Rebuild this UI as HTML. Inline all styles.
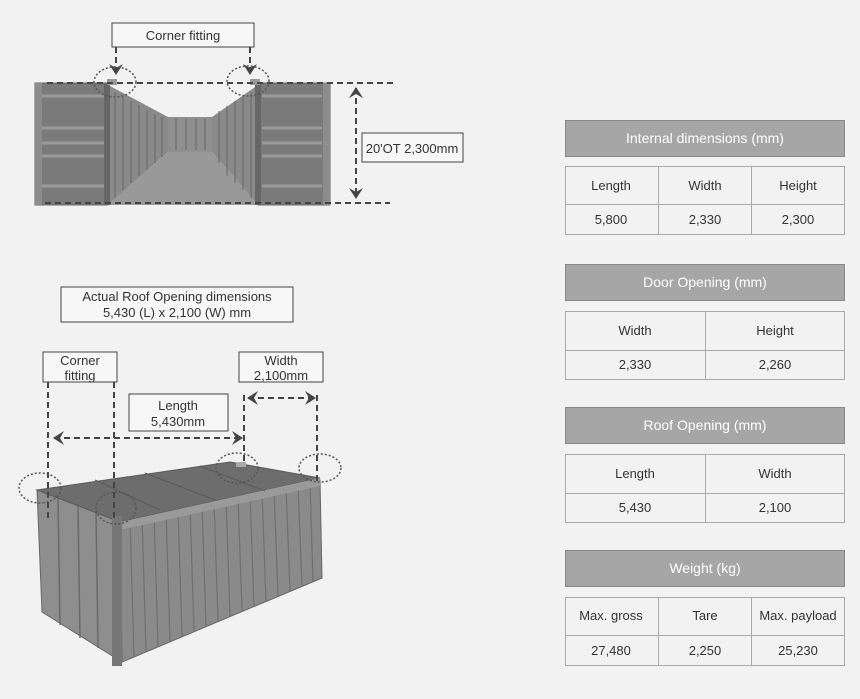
<!DOCTYPE html>
<html><head><style>
body{margin:0;background:#f2f2f2}
svg{display:block;font-family:"Liberation Sans",sans-serif}
</style></head><body>
<svg width="860" height="699" viewBox="0 0 860 699">
<rect width="860" height="699" fill="#f2f2f2"/>
<defs>
<marker id="ah" markerWidth="14" markerHeight="14" refX="10" refY="7" orient="auto-start-reverse" markerUnits="userSpaceOnUse"><path d="M0,0 L11,7 L0,14 L4,7 Z" fill="#444"/></marker>
</defs>
<g>
<rect x="35" y="83" width="73" height="122" fill="#7a7a7a" stroke="#666"/>
<rect x="258" y="83" width="72" height="122" fill="#7a7a7a" stroke="#666"/>
<g stroke="#9a9a9a" stroke-width="3">
<line x1="42" y1="96" x2="104" y2="96"/><line x1="42" y1="128" x2="104" y2="128"/><line x1="42" y1="143" x2="104" y2="143"/><line x1="42" y1="156" x2="104" y2="156"/><line x1="42" y1="186" x2="104" y2="186"/>
<line x1="262" y1="96" x2="322" y2="96"/><line x1="262" y1="128" x2="322" y2="128"/><line x1="262" y1="143" x2="322" y2="143"/><line x1="262" y1="156" x2="322" y2="156"/><line x1="262" y1="186" x2="322" y2="186"/>
</g>
<rect x="35" y="83" width="7" height="122" fill="#8c8c8c"/>
<rect x="323" y="83" width="7" height="122" fill="#8c8c8c"/>
<polygon points="108,85 168,117 168,152 108,205" fill="#8a8a8a"/>
<polygon points="258,85 212,117 212,152 258,205" fill="#8a8a8a"/>
<polygon points="168,117 212,117 212,152 168,152" fill="#8f8f8f"/>
<polygon points="108,205 168,152 212,152 258,205" fill="#999"/>
<g stroke="#666" stroke-width="1">
<line x1="115" y1="92" x2="115" y2="198"/><line x1="123" y1="97" x2="123" y2="190"/><line x1="131" y1="101" x2="131" y2="183"/><line x1="139" y1="105" x2="139" y2="176"/><line x1="147" y1="110" x2="147" y2="170"/><line x1="155" y1="114" x2="155" y2="163"/><line x1="162" y1="117" x2="162" y2="157"/>
<line x1="251" y1="92" x2="251" y2="198"/><line x1="243" y1="97" x2="243" y2="190"/><line x1="235" y1="101" x2="235" y2="183"/><line x1="227" y1="106" x2="227" y2="176"/><line x1="219" y1="111" x2="219" y2="163"/>
<line x1="176" y1="119" x2="176" y2="150"/><line x1="186" y1="119" x2="186" y2="150"/><line x1="196" y1="119" x2="196" y2="150"/><line x1="205" y1="119" x2="205" y2="150"/>
</g>
<rect x="104" y="83" width="6" height="122" fill="#666"/>
<rect x="255" y="83" width="6" height="122" fill="#666"/>
<rect x="107" y="79" width="10" height="6" fill="#999"/>
<rect x="250" y="79" width="10" height="6" fill="#999"/>
</g>
<g stroke="#444" stroke-width="2" stroke-dasharray="6,4" fill="none">
<line x1="47" y1="83" x2="393" y2="83"/>
<line x1="45" y1="203" x2="390" y2="203"/>
<line x1="356" y1="88" x2="356" y2="198" marker-end="url(#ah)" marker-start="url(#ah)"/>
<line x1="116" y1="47" x2="116" y2="74" marker-end="url(#ah)"/>
<line x1="250" y1="47" x2="250" y2="74" marker-end="url(#ah)"/>
</g>
<g stroke="#555" stroke-width="1.5" stroke-dasharray="2,2" fill="none">
<ellipse cx="115" cy="82" rx="21" ry="15"/>
<ellipse cx="248" cy="81" rx="21" ry="15"/>
</g>
<rect x="112" y="23" width="142" height="24" fill="#f7f7f7" stroke="#444"/>
<text x="183" y="40" font-size="13" fill="#333" text-anchor="middle">Corner fitting</text>
<rect x="362" y="133" width="101" height="29" fill="#f7f7f7" stroke="#444"/>
<text x="412" y="153" font-size="13" fill="#333" text-anchor="middle">20'OT 2,300mm</text>

<polygon points="118,520 320,480 322,578 122,662" fill="#8a8a8a" stroke="#666"/>
<g stroke="#6f6f6f" stroke-width="1.2">
<line x1="130" y1="518" x2="134" y2="656"/><line x1="142" y1="516" x2="146" y2="651"/><line x1="154" y1="513" x2="158" y2="646"/><line x1="166" y1="511" x2="170" y2="641"/><line x1="178" y1="508" x2="182" y2="636"/><line x1="190" y1="506" x2="194" y2="631"/><line x1="202" y1="503" x2="206" y2="626"/><line x1="214" y1="501" x2="218" y2="621"/><line x1="226" y1="498" x2="230" y2="616"/><line x1="238" y1="496" x2="242" y2="611"/><line x1="250" y1="494" x2="254" y2="606"/><line x1="262" y1="491" x2="266" y2="601"/><line x1="274" y1="489" x2="278" y2="596"/><line x1="286" y1="486" x2="290" y2="591"/><line x1="298" y1="484" x2="302" y2="586"/><line x1="310" y1="482" x2="313" y2="582"/>
</g>
<polygon points="37,490 120,520 122,662 42,612" fill="#8e8e8e" stroke="#666"/>
<g stroke="#6a6a6a" stroke-width="1.5">
<line x1="58" y1="498" x2="60" y2="625"/><line x1="78" y1="505" x2="80" y2="638"/><line x1="96" y1="511" x2="98" y2="648"/>
</g>
<polygon points="37,490 230,462 320,478 120,522" fill="#6d6d6d" stroke="#5a5a5a"/>
<polygon points="120,522 320,478 320,486 120,530" fill="#9a9a9a"/>
<g stroke="#5a5a5a"><line x1="95" y1="480" x2="160" y2="510"/><line x1="145" y1="473" x2="215" y2="500"/><line x1="200" y1="466" x2="265" y2="491"/></g>
<rect x="112" y="516" width="10" height="150" fill="#777"/>
<rect x="236" y="462" width="10" height="5" fill="#aaa"/>
<g stroke="#444" stroke-width="2" stroke-dasharray="6,4" fill="none">
<line x1="48" y1="382" x2="48" y2="520"/>
<line x1="114" y1="382" x2="114" y2="520"/>
<line x1="244" y1="395" x2="244" y2="462"/>
<line x1="317" y1="395" x2="317" y2="482"/>
<line x1="54" y1="438" x2="242" y2="438" marker-end="url(#ah)" marker-start="url(#ah)"/>
<line x1="248" y1="398" x2="315" y2="398" marker-end="url(#ah)" marker-start="url(#ah)"/>
</g>
<g stroke="#555" stroke-width="1.5" stroke-dasharray="2,2" fill="none">
<ellipse cx="40" cy="488" rx="21" ry="15"/>
<ellipse cx="116" cy="508" rx="20" ry="16"/>
<ellipse cx="237" cy="468" rx="21" ry="15"/>
<ellipse cx="320" cy="468" rx="21" ry="14"/>
</g>
<rect x="61" y="287" width="232" height="35" fill="#f7f7f7" stroke="#444"/>
<text x="177" y="301" font-size="13" fill="#333" text-anchor="middle">Actual Roof Opening dimensions</text>
<text x="177" y="317" font-size="13" fill="#333" text-anchor="middle">5,430 (L) x 2,100 (W) mm</text>
<rect x="43" y="352" width="74" height="30" fill="#f7f7f7" stroke="#444"/>
<text x="80" y="365" font-size="13" fill="#333" text-anchor="middle">Corner</text>
<text x="80" y="380" font-size="13" fill="#333" text-anchor="middle">fitting</text>
<rect x="239" y="352" width="84" height="30" fill="#f7f7f7" stroke="#444"/>
<text x="281" y="365" font-size="13" fill="#333" text-anchor="middle">Width</text>
<text x="281" y="380" font-size="13" fill="#333" text-anchor="middle">2,100mm</text>
<rect x="129" y="394" width="99" height="37" fill="#f7f7f7" stroke="#444"/>
<text x="178" y="410" font-size="13" fill="#333" text-anchor="middle">Length</text>
<text x="178" y="426" font-size="13" fill="#333" text-anchor="middle">5,430mm</text>

<g font-size="13" fill="#333" text-anchor="middle">
<g stroke="#888" fill="#a6a6a6">
<rect x="565.5" y="120.5" width="279" height="36"/>
<rect x="565.5" y="264.5" width="279" height="36"/>
<rect x="565.5" y="407.5" width="279" height="36"/>
<rect x="565.5" y="550.5" width="279" height="36"/>
</g>
<g fill="#fff" font-size="14">
<text x="705" y="143">Internal dimensions (mm)</text>
<text x="705" y="287">Door Opening (mm)</text>
<text x="705" y="430">Roof Opening (mm)</text>
<text x="705" y="573">Weight (kg)</text>
</g>
<g stroke="#aaa" fill="none">
<rect x="565.5" y="166.5" width="279" height="68"/><line x1="565" y1="204.5" x2="845" y2="204.5"/><line x1="658.5" y1="166" x2="658.5" y2="235"/><line x1="751.5" y1="166" x2="751.5" y2="235"/>
<rect x="565.5" y="311.5" width="279" height="68"/><line x1="565" y1="350.5" x2="845" y2="350.5"/><line x1="705.5" y1="311" x2="705.5" y2="380"/>
<rect x="565.5" y="454.5" width="279" height="68"/><line x1="565" y1="493.5" x2="845" y2="493.5"/><line x1="705.5" y1="454" x2="705.5" y2="523"/>
<rect x="565.5" y="597.5" width="279" height="68"/><line x1="565" y1="635.5" x2="845" y2="635.5"/><line x1="658.5" y1="597" x2="658.5" y2="666"/><line x1="751.5" y1="597" x2="751.5" y2="666"/>
</g>
<text x="611" y="190">Length</text><text x="705" y="190">Width</text><text x="798" y="190">Height</text>
<text x="611" y="224">5,800</text><text x="705" y="224">2,330</text><text x="798" y="224">2,300</text>
<text x="635" y="335">Width</text><text x="775" y="335">Height</text>
<text x="635" y="369">2,330</text><text x="775" y="369">2,260</text>
<text x="635" y="478">Length</text><text x="775" y="478">Width</text>
<text x="635" y="512">5,430</text><text x="775" y="512">2,100</text>
<text x="611" y="620">Max. gross</text><text x="705" y="620">Tare</text><text x="798" y="620">Max. payload</text>
<text x="611" y="655">27,480</text><text x="705" y="655">2,250</text><text x="798" y="655">25,230</text>
</g>
</svg>
</body></html>
